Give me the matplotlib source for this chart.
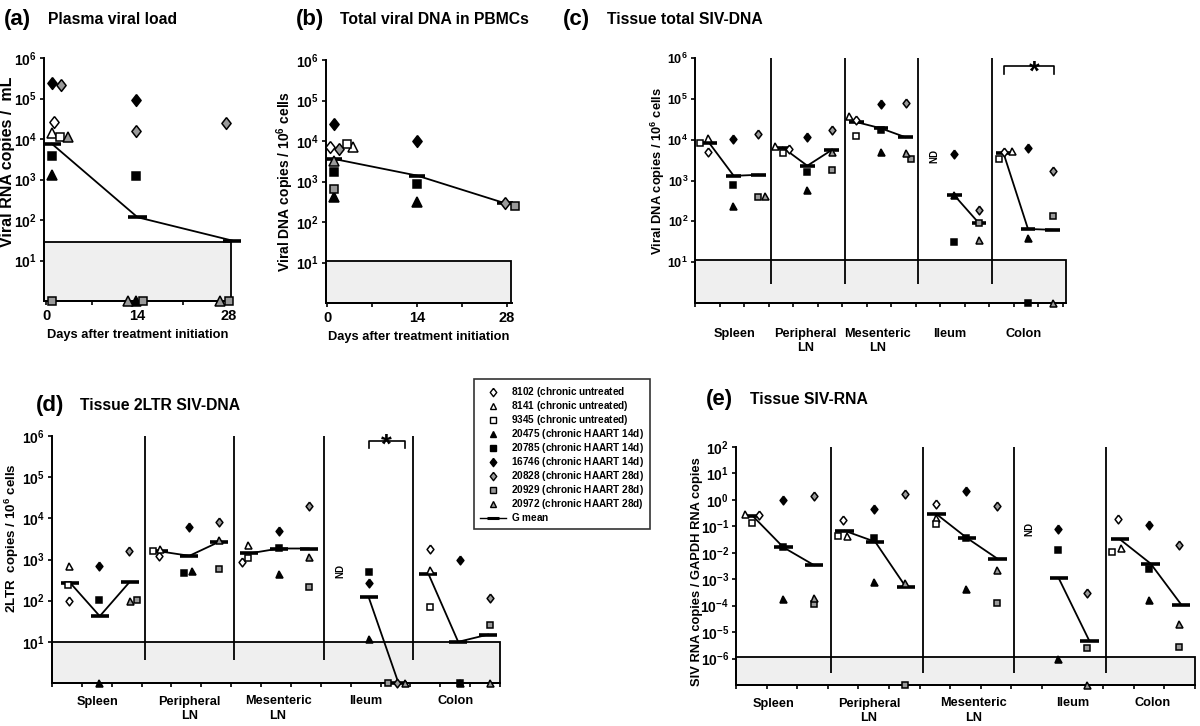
import numpy as np
import matplotlib
matplotlib.use("Agg")
import matplotlib.pyplot as plt
from matplotlib.lines import Line2D
from matplotlib.patches import Rectangle
from matplotlib.ticker import NullLocator

plt.rcParams['font.family'] = ['Liberation Sans', 'DejaVu Sans']
plt.rcParams['font.weight'] = 'bold'
plt.rcParams['axes.labelweight'] = 'bold'
plt.rcParams['mathtext.fontset'] = 'custom'
plt.rcParams['mathtext.rm'] = 'Liberation Sans:bold'
plt.rcParams['mathtext.it'] = 'Liberation Sans:bold'
plt.rcParams['mathtext.bf'] = 'Liberation Sans:bold'
plt.rcParams['mathtext.sf'] = 'Liberation Sans'
plt.rcParams['mathtext.default'] = 'rm'

NAN = np.nan

# ---------------- data ----------------
ANIMALS = ['8102', '8141', '9345', '20475', '20785', '16746', '20828', '20929', '20972']
GROUPS = ['chronic untreated', 'chronic untreated)', 'chronic untreated)',
          'chronic HAART 14d)', 'chronic HAART 14d)', 'chronic HAART 14d)',
          'chronic HAART 28d)', 'chronic HAART 28d)', 'chronic HAART 28d)']
TISSUES = ['Spleen', 'Peripheral\nLN', 'Mesenteric\nLN', 'Ileum', 'Colon']
DAYS = [0, 14, 28]

# (a) plasma viral load (copies/mL); 1 = undetectable (plotted on axis)
A_DAY0 = [2.7e4, 1.4e4, 1.1e4, 1.3e3, 3.7e3, 2.4e5, 2.2e5, 1, 1.15e4]
A_DAY14 = [NAN, NAN, NAN, 1, 1.2e3, 9e4, 1.6e4, 1, 1]
A_DAY28 = [NAN, NAN, NAN, NAN, NAN, NAN, 2.5e4, 1, 1]
A_GMEAN = [7.6e3, 117, 31]
A_LIMIT = 29

# (b) total viral DNA in PBMCs
B_DAY0 = [7.1e3, 7.1e3, 8.3e3, 410, 1.7e3, 2.6e4, 6.5e3, 660, 3.2e3]
B_DAY14 = [NAN, NAN, NAN, 310, 850, 1.0e4, NAN, NAN, NAN]
B_DAY28 = [NAN, NAN, NAN, NAN, NAN, NAN, 295, 250, NAN]
B_GMEAN = [3.6e3, 1.4e3, 290]
B_LIMIT = 11

# (c) tissue total SIV-DNA
C_SPLEEN = [5.1e3, 1.1e4, 8.3e3, 240, 760, 1.05e4, 1.37e4, 385, 425]
C_PLN = [5.9e3, 7.1e3, 4.7e3, 590, 1.66e3, 1.15e4, 1.7e4, 1.8e3, 4.9e3]
C_MLN = [2.95e4, 3.8e4, 1.2e4, 5e3, 1.7e4, 7.6e4, 8.1e4, 3.4e3, 4.7e3]
C_ILEUM = [NAN, NAN, NAN, 445, 32, 4.5e3, 185, 91, 34]
C_COLON = [5.1e3, 5.4e3, 3.3e3, 39, 1, 6.4e3, 1.7e3, 137, 1]
C_GM_UNTR = [8.3e3, 6.4e3, 2.7e4, NAN, 4.7e3]
C_GM_14D = [1.3e3, 2.3e3, 1.9e4, 430, 65]
C_GM_28D = [1.38e3, 5.6e3, 1.15e4, 90, 62]
C_LIMIT = 11

# (d) tissue 2LTR SIV-DNA
D_SPLEEN = [98, 700, 240, 1, 102, 700, 1.6e3, 102, 98]
D_PLN = [1.2e3, 1.8e3, 1.6e3, 530, 465, 6e3, 8e3, 600, 2.95e3]
D_MLN = [850, 2.2e3, 1.07e3, 455, 1.9e3, 5e3, 2.0e4, 220, 1.18e3]
D_ILEUM = [NAN, NAN, NAN, 11.4, 510, 275, 1, 1, 1]
D_COLON = [1.85e3, 560, 70, 1, 1, 960, 114, 25.5, 1]
D_GM_UNTR = [275, 1.58e3, 1.4e3, NAN, 455]
D_GM_14D = [42, 1.23e3, 1.85e3, 123, 10]
D_GM_28D = [285, 2.7e3, 1.85e3, 1, 15]
D_LIMIT = 10

# (e) tissue SIV-RNA (ratio to GAPDH); 1e-7 = undetectable
E_SPLEEN = [0.26, 0.30, 0.135, 1.75e-4, 0.016, 1.0, 1.37, 1.15e-4, 2.0e-4]
E_PLN = [0.17, 0.042, 0.042, 8e-4, 0.035, 0.47, 1.74, 1e-7, 6.9e-4]
E_MLN = [0.72, 0.21, 0.126, 4.2e-4, 0.037, 2.1, 0.59, 1.3e-4, 2.3e-3]
E_ILEUM = [NAN, NAN, NAN, 1e-6, 0.013, 0.076, 3e-4, 2.5e-6, 1e-7]
E_COLON = [0.186, 0.015, 0.0105, 1.6e-4, 2.4e-3, 0.117, 0.019, 2.75e-6, 2e-5]
E_GM_UNTR = [0.245, 0.068, 0.29, NAN, 0.032]
E_GM_14D = [0.016, 0.026, 0.036, 1.07e-3, 3.9e-3]
E_GM_28D = [3.4e-3, 5.1e-4, 5.9e-3, 4.6e-6, 1.1e-4]
E_LIMIT = 1.1e-6

# ---------------- layout / style ----------------
W, H = 1200, 726
fig = plt.figure(figsize=(12, 7.26), dpi=100)

DIAMOND = [(0, 1), (0.78, 0), (0, -1), (-0.78, 0), (0, 1)]
GREY = '#9a9a9a'
SHAPES = [DIAMOND, '^', 's', '^', 's', DIAMOND, DIAMOND, 's', '^']
FACES = ['white'] * 3 + ['black'] * 3 + [GREY] * 3
SIZE_F = [1.0 if s is DIAMOND else (0.8 if s == '^' else 0.62) for s in SHAPES]


def px_axes(l, t, r, b):
    return fig.add_axes([l / W, 1 - b / H, (r - l) / W, (b - t) / H])


def style_log_axis(ax, ymin, ymax, exps, fs):
    ax.set_yscale('log')
    ax.set_ylim(ymin, ymax)
    ax.set_yticks([10.0 ** e for e in exps])
    ax.set_yticklabels([f'$10^{{{e}}}$' for e in exps], fontsize=fs)
    ax.yaxis.set_minor_locator(NullLocator())
    for s in ['top', 'right']:
        ax.spines[s].set_visible(False)
    for s in ['left', 'bottom']:
        ax.spines[s].set_linewidth(1.4)
        ax.spines[s].set_zorder(3)
    ax.tick_params(axis='y', which='both', length=3, width=1.2, pad=2)
    ax.patch.set_alpha(0)


def draw_points(ax, xs, vals, base):
    for k in range(9):
        v = vals[k]
        if np.isnan(v):
            continue
        ax.plot(xs[k], v, marker=SHAPES[k], ms=base * SIZE_F[k], mfc=FACES[k],
                mec='black', mew=1.1, ls='none', clip_on=False, zorder=5)


def draw_gmean(ax, xs, ys, hw):
    xs = np.asarray(xs, float)
    ys = np.asarray(ys, float)
    ok = ~np.isnan(ys)
    ax.plot(xs[ok], ys[ok], color='black', lw=1.3, zorder=4, clip_on=False)
    ax.hlines(ys[ok], xs[ok] - hw, xs[ok] + hw, colors='black', lw=2.6,
              zorder=4, clip_on=False)


def grey_box(ax, x0, x1, y0, y1):
    ax.add_patch(Rectangle((x0, y0), x1 - x0, y1 - y0, facecolor='#efefef',
                           edgecolor='black', lw=1.3, zorder=1, clip_on=False))


# ---------------- (a) ----------------
axa = px_axes(44, 58, 232, 301)
style_log_axis(axa, 1, 1e6, range(1, 7), 10)
axa.set_xlim(-0.31, 28.46)
axa.set_xticks(DAYS)
axa.set_xticklabels([str(d) for d in DAYS], fontsize=10.5)
axa.set_xticks([7, 21], minor=True)
axa.tick_params(axis='x', which='both', length=3, width=1.2, pad=3)
grey_box(axa, -0.31, 28.3, 1, A_LIMIT)
A_X0 = [1.2, 0.9, 2.1, 0.9, 0.9, 0.9, 2.3, 0.9, 3.4]
A_X14 = [0, 0, 0, 13.7, 13.7, 13.7, 13.7, 14.8, 12.5]
A_X28 = [0, 0, 0, 0, 0, 0, 27.6, 28.0, 26.7]
draw_gmean(axa, [0.9, 14, 28.5], A_GMEAN, 1.4)
draw_points(axa, A_X0, A_DAY0, 8.5)
draw_points(axa, A_X14, A_DAY14, 8.5)
draw_points(axa, A_X28, A_DAY28, 8.5)
axa.set_xlabel('Days after treatment initiation', fontsize=9.3, labelpad=4)
fig.text(8 / W, 1 - 162 / H, 'Viral RNA copies /  mL', rotation=90,
         ha='center', va='center', fontsize=11.5)

# ---------------- (b) ----------------
axb = px_axes(326, 60, 512, 303)
style_log_axis(axb, 1, 1e6, range(1, 7), 10)
axb.set_xlim(-0.16, 28.77)
axb.set_xticks(DAYS)
axb.set_xticklabels([str(d) for d in DAYS], fontsize=10.5)
axb.set_xticks([7, 21], minor=True)
axb.tick_params(axis='x', which='both', length=3, width=1.2, pad=3)
grey_box(axb, -0.16, 28.6, 1, B_LIMIT)
B_X0 = [0.5, 4.1, 3.1, 1.1, 1.1, 1.1, 1.9, 1.1, 1.1]
B_X14 = [0, 0, 0, 14, 14, 14, 0, 0, 0]
B_X28 = [0, 0, 0, 0, 0, 0, 27.7, 29.3, 28]
draw_gmean(axb, [1.1, 14, 27.7], B_GMEAN, 1.3)
draw_points(axb, B_X0, B_DAY0, 8.5)
draw_points(axb, B_X14, B_DAY14, 8.5)
draw_points(axb, B_X28, B_DAY28, 8.5)
axb.set_xlabel('Days after treatment initiation', fontsize=9.3, labelpad=4)
fig.text(285 / W, 1 - 182 / H, 'Viral DNA copies / 10$^{6}$ cells', rotation=90,
         ha='center', va='center', fontsize=10)


# ---------------- tissue panels ----------------
def tissue_panel(rect, ymin, ymax, exps, tick_fs, data, gm, limit, offsets,
                 gshift, label_x, label_pad, sep_bottom, base, xmax=15.0):
    ax = px_axes(*rect)
    style_log_axis(ax, ymin, ymax, exps, tick_fs)
    ax.set_xlim(0, xmax)
    ax.set_xticks(np.arange(0, 16), minor=True)
    ax.set_xticks(label_x)
    ax.set_xticklabels(TISSUES, fontsize=9.2)
    for lbl in ax.get_xticklabels():
        lbl.set_linespacing(1.25)
    ax.tick_params(axis='x', which='major', length=0, pad=label_pad)
    ax.tick_params(axis='x', which='minor', length=3, width=1.2)
    grey_box(ax, 0, xmax, ymin, limit)
    ax.vlines([3.1, 6.1, 9.1, 12.1], sep_bottom, ymax, colors='black', lw=1.3, zorder=2)
    group_of = [0, 0, 0, 1, 1, 1, 2, 2, 2]
    for i in range(5):
        xs = [3 * i + group_of[k] + 0.5 + offsets[i][k] for k in range(9)]
        gx = [3 * i + g + 0.5 + gshift for g in range(3)]
        draw_gmean(ax, gx, [gm[0][i], gm[1][i], gm[2][i]], 0.3)
        draw_points(ax, xs, data[i], base)
    return ax


C_OFF = [[0.04, 0.04, -0.3, 0.04, 0.04, 0.04, 0.06, 0.05, 0.36],
         [0.35, -0.23, 0.07, 0.06, 0.06, 0.06, 0.08, 0.08, 0.08],
         [0.07, -0.2, 0.07, 0.09, 0.09, 0.09, 0.1, 0.3, 0.1],
         [0, 0, 0, 0.08, 0.08, 0.08, 0.1, 0.1, 0.1],
         [0.09, 0.43, -0.12, 0.1, 0.1, 0.1, 0.12, 0.12, 0.12]]
axc = tissue_panel((695, 58, 1066, 303), 1, 1e6, range(1, 7), 9,
                   [C_SPLEEN, C_PLN, C_MLN, C_ILEUM, C_COLON],
                   [C_GM_UNTR, C_GM_14D, C_GM_28D], C_LIMIT, C_OFF, 0.08,
                   [1.6, 4.5, 7.45, 10.4, 13.4], 18, 3.0, 6.3, xmax=15.13)
fig.text(658 / W, 1 - 171 / H, 'Viral DNA copies / 10$^{6}$ cells', rotation=90,
         ha='center', va='center', fontsize=9.3)
axc.text(9.75, 3.9e3, 'ND', rotation=90, ha='center', va='center', fontsize=7)
axc.plot([12.6, 12.6, 14.65, 14.65], [4.0e5, 6.2e5, 6.2e5, 4.0e5], color='black', lw=1.2,
         clip_on=False)
axc.text(13.84, 4.5e5, '*', ha='center', va='center', fontsize=20)

D_OFF = [[0.06, 0.06, 0.04, 0.06, 0.06, 0.06, 0.08, 0.33, 0.1],
         [0.08, 0.13, -0.11, 0.2, -0.08, 0.1, 0.08, 0.08, 0.08],
         [-0.13, 0.07, 0.07, 0.11, 0.11, 0.11, 0.11, 0.11, 0.11],
         [0, 0, 0, 0.11, 0.11, 0.11, 0.05, -0.24, 0.32],
         [0.16, 0.16, 0.16, 0.16, 0.16, 0.16, 0.15, 0.15, 0.15]]
axd = tissue_panel((52, 436, 500, 683), 1, 1e6, range(1, 7), 10,
                   [D_SPLEEN, D_PLN, D_MLN, D_ILEUM, D_COLON],
                   [D_GM_UNTR, D_GM_14D, D_GM_28D], D_LIMIT, D_OFF, 0.1,
                   [1.52, 4.6, 7.57, 10.5, 13.5], 9, 3.7, 6.3)
fig.text(12 / W, 1 - 538 / H, '2LTR  copies / 10$^{6}$ cells', rotation=90,
         ha='center', va='center', fontsize=9.6)
axd.text(9.64, 530, 'ND', rotation=90, ha='center', va='center', fontsize=7)
axd.plot([10.61, 10.61, 11.82, 11.82], [5.0e5, 7.6e5, 7.6e5, 5.0e5], color='black', lw=1.2,
         clip_on=False)
axd.text(11.2, 5.9e5, '*', ha='center', va='center', fontsize=20)

E_OFF = [[0.26, -0.21, 0.01, 0.05, 0.05, 0.05, 0.05, 0.05, 0.05],
         [0.0, 0.14, -0.18, 0.02, 0.02, 0.02, 0.03, 0.03, 0.03],
         [0.02, 0.02, 0.02, 0.0, 0.0, 0.0, 0.02, 0.02, 0.02],
         [0, 0, 0, 0.01, 0.01, 0.01, -0.02, -0.02, -0.02],
         [-0.03, 0.08, -0.22, 0.0, 0.0, 0.0, -0.02, -0.02, -0.02]]
axe = tissue_panel((736, 447, 1195, 685), 1e-7, 1e2, range(-6, 3), 10,
                   [E_SPLEEN, E_PLN, E_MLN, E_ILEUM, E_COLON],
                   [E_GM_UNTR, E_GM_14D, E_GM_28D], E_LIMIT, E_OFF, 0.05,
                   [1.24, 4.35, 7.76, 11.0, 13.6], 9, 2.75e-7, 6.3)
fig.text(697 / W, 1 - 572 / H, 'SIV RNA copies / GAPDH RNA copies', rotation=90,
         ha='center', va='center', fontsize=9.3)
axe.text(9.6, 0.078, 'ND', rotation=90, ha='center', va='center', fontsize=7)

# ---------------- titles ----------------
def panel_title(x, y, letter, title):
    fig.text(x / W, 1 - y / H, letter, fontsize=16, ha='left', va='center')
    fig.text((x + 44) / W, 1 - y / H, title, fontsize=11.3, ha='left', va='center')


panel_title(4, 19, '(a)', 'Plasma viral load')
panel_title(296, 19, '(b)', 'Total viral DNA in PBMCs')
panel_title(563, 19, '(c)', 'Tissue total SIV-DNA')
panel_title(36, 406, '(d)', 'Tissue 2LTR SIV-DNA')
panel_title(706, 400, '(e)', 'Tissue SIV-RNA')

# ---------------- legend ----------------
handles = [Line2D([0], [0], marker=SHAPES[k], ms=6 * SIZE_F[k], mfc=FACES[k], mec='black',
                  mew=1.0, ls='none') for k in range(9)]
handles.append(Line2D([0], [0], color='black', lw=1.0, marker='_', ms=9, mew=2.2))
labels = [r'$\mathsf{' + ANIMALS[k] + r'\ (}$' + GROUPS[k] for k in range(9)]
labels.append(r'$\mathsf{G\ mean}$')
leg = fig.legend(handles, labels, loc='upper left', bbox_to_anchor=(474 / W, 1 - 379 / H),
                 bbox_transform=fig.transFigure, frameon=True, fancybox=False,
                 edgecolor='black', fontsize=7.2, borderaxespad=0, borderpad=0.6,
                 labelspacing=0.0, handlelength=2.6, handletextpad=0.5, numpoints=1)
leg.get_frame().set_linewidth(1.2)

fig.savefig('out.png', dpi=100)
